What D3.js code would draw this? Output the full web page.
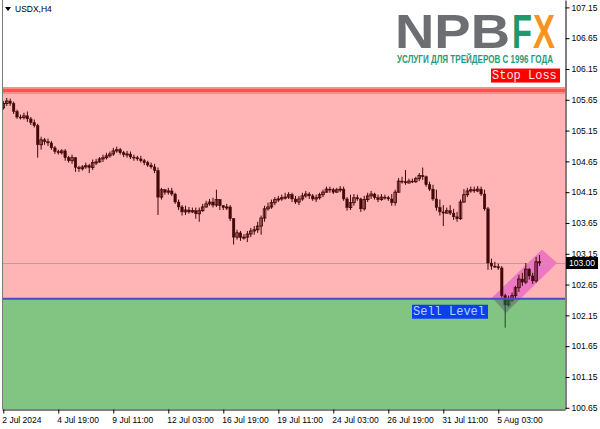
<!DOCTYPE html>
<html>
<head>
<meta charset="utf-8">
<script src="https://cdn.jsdelivr.net/npm/d3@7"></script>
<style>
  body { margin: 0; background: #fff; }
  svg { display: block; font-family: "Liberation Sans", Arial, sans-serif; }
</style>
</head>
<body>
<div id="chart"></div>
<script>
"use strict";

// chart data
var symbolName = "USDX,H4";
var stopLossLevel = 105.80;
var sellLevel = 102.42;
var currentPrice = 103.00;

var priceTicks = [100.65, 101.15, 101.65, 102.15, 102.65, 103.15, 103.65, 104.15, 104.65, 105.15, 105.65, 106.15, 106.65, 107.15];
var timeTickIndex = [0, 16, 32, 48, 64, 80, 96, 112, 128, 144];
var timeTickLabels = ["2 Jul 2024", "4 Jul 19:00", "9 Jul 11:00", "12 Jul 03:00", "16 Jul 19:00",
  "19 Jul 11:00", "24 Jul 03:00", "26 Jul 19:00", "31 Jul 11:00", "5 Aug 03:00"];

// rising channel drawn on the last bars: [bar index, price]
var channelPoints = [[142.2, 102.44], [156.7, 103.22], [161.1, 103.00], [146.2, 102.19]];

// H4 candles: [open, high, low, close]
var candles = [
  [105.52, 105.63, 105.49, 105.59], [105.59, 105.68, 105.55, 105.63], [105.63, 105.67, 105.55, 105.59],
  [105.59, 105.62, 105.42, 105.46], [105.46, 105.49, 105.34, 105.37], [105.37, 105.41, 105.33, 105.36],
  [105.36, 105.44, 105.33, 105.39], [105.39, 105.46, 105.29, 105.34], [105.34, 105.37, 105.24, 105.28],
  [105.28, 105.33, 105.20, 105.23], [105.23, 105.26, 104.71, 104.92], [104.92, 105.05, 104.84, 105.00],
  [105.00, 105.03, 104.92, 104.97], [104.97, 105.02, 104.90, 104.95], [104.95, 104.98, 104.84, 104.87],
  [104.87, 104.90, 104.77, 104.81], [104.81, 104.84, 104.76, 104.79], [104.79, 104.85, 104.76, 104.82],
  [104.82, 104.85, 104.66, 104.71], [104.71, 104.74, 104.63, 104.66], [104.66, 104.76, 104.61, 104.71],
  [104.71, 104.72, 104.48, 104.55], [104.55, 104.58, 104.48, 104.53], [104.53, 104.59, 104.50, 104.56],
  [104.56, 104.63, 104.53, 104.58], [104.58, 104.61, 104.46, 104.55], [104.55, 104.68, 104.51, 104.63],
  [104.63, 104.69, 104.59, 104.64], [104.64, 104.72, 104.63, 104.69], [104.69, 104.76, 104.64, 104.71],
  [104.71, 104.79, 104.68, 104.74], [104.74, 104.81, 104.71, 104.77], [104.77, 104.87, 104.74, 104.82],
  [104.82, 104.89, 104.79, 104.84], [104.84, 104.87, 104.76, 104.79], [104.79, 104.82, 104.72, 104.76],
  [104.76, 104.82, 104.71, 104.77], [104.77, 104.81, 104.69, 104.72], [104.72, 104.76, 104.66, 104.71],
  [104.71, 104.74, 104.66, 104.69], [104.69, 104.74, 104.63, 104.66], [104.66, 104.69, 104.59, 104.63],
  [104.63, 104.66, 104.56, 104.59], [104.59, 104.63, 104.53, 104.56], [104.56, 104.61, 104.46, 104.50],
  [104.50, 104.55, 103.78, 104.07], [104.07, 104.22, 104.03, 104.19], [104.19, 104.20, 104.11, 104.15],
  [104.15, 104.22, 104.11, 104.17], [104.17, 104.22, 104.09, 104.12], [104.12, 104.14, 103.96, 103.99],
  [103.99, 104.03, 103.86, 103.91], [103.91, 103.94, 103.77, 103.83], [103.83, 103.93, 103.78, 103.86],
  [103.86, 103.91, 103.80, 103.83], [103.83, 103.90, 103.81, 103.85], [103.85, 103.90, 103.72, 103.80],
  [103.80, 103.90, 103.67, 103.85], [103.85, 103.96, 103.83, 103.91], [103.91, 104.01, 103.90, 103.96],
  [103.96, 104.04, 103.93, 103.99], [103.99, 104.06, 103.90, 103.94], [103.94, 104.19, 103.91, 104.03],
  [104.03, 104.04, 103.86, 103.93], [103.93, 103.94, 103.86, 103.90], [103.90, 103.96, 103.86, 103.91],
  [103.91, 103.94, 103.68, 103.72], [103.72, 103.73, 103.30, 103.42], [103.42, 103.54, 103.38, 103.49],
  [103.49, 103.52, 103.36, 103.41], [103.41, 103.47, 103.38, 103.42], [103.42, 103.52, 103.34, 103.47],
  [103.47, 103.57, 103.42, 103.52], [103.52, 103.60, 103.46, 103.54], [103.54, 103.67, 103.49, 103.60],
  [103.60, 103.77, 103.46, 103.73], [103.73, 103.93, 103.67, 103.88], [103.88, 103.98, 103.85, 103.91],
  [103.91, 104.03, 103.88, 103.98], [103.98, 104.07, 103.94, 104.03], [104.03, 104.09, 103.99, 104.04],
  [104.04, 104.11, 104.01, 104.06], [104.06, 104.14, 104.03, 104.07], [104.07, 104.15, 104.04, 104.11],
  [104.11, 104.14, 103.99, 104.04], [104.04, 104.09, 103.96, 103.99], [103.99, 104.09, 103.94, 104.04],
  [104.04, 104.14, 104.01, 104.09], [104.09, 104.17, 104.06, 104.12], [104.12, 104.15, 104.04, 104.09],
  [104.09, 104.12, 104.01, 104.04], [104.04, 104.11, 103.99, 104.06], [104.06, 104.14, 104.03, 104.11],
  [104.11, 104.19, 104.07, 104.15], [104.15, 104.24, 104.14, 104.20], [104.20, 104.24, 104.14, 104.19],
  [104.19, 104.22, 104.12, 104.15], [104.15, 104.22, 104.14, 104.19], [104.19, 104.25, 104.15, 104.20],
  [104.20, 104.24, 104.01, 104.04], [104.04, 104.07, 103.85, 103.90], [103.90, 104.11, 103.86, 103.98],
  [103.98, 104.12, 103.93, 104.06], [104.06, 104.11, 104.01, 104.04], [104.04, 104.06, 103.83, 103.88],
  [103.88, 104.09, 103.85, 104.03], [104.03, 104.14, 103.99, 104.09], [104.09, 104.17, 104.04, 104.12],
  [104.12, 104.14, 104.03, 104.06], [104.06, 104.11, 103.99, 104.03], [104.03, 104.12, 104.01, 104.07],
  [104.07, 104.11, 104.03, 104.06], [104.06, 104.09, 104.01, 104.04], [104.04, 104.12, 103.93, 103.98],
  [103.98, 104.19, 103.93, 104.15], [104.15, 104.38, 104.14, 104.33], [104.33, 104.40, 104.29, 104.32],
  [104.32, 104.51, 104.27, 104.30], [104.30, 104.37, 104.29, 104.33], [104.33, 104.37, 104.30, 104.32],
  [104.32, 104.40, 104.30, 104.37], [104.37, 104.46, 104.33, 104.42], [104.42, 104.55, 104.35, 104.40],
  [104.40, 104.42, 104.24, 104.27], [104.27, 104.32, 104.17, 104.20], [104.20, 104.27, 104.01, 104.04],
  [104.04, 104.19, 103.85, 103.90], [103.90, 104.03, 103.77, 103.83], [103.83, 103.94, 103.60, 103.81],
  [103.81, 103.90, 103.80, 103.85], [103.85, 103.94, 103.78, 103.81], [103.81, 103.88, 103.70, 103.75],
  [103.75, 103.83, 103.67, 103.72], [103.72, 104.03, 103.70, 103.99], [103.99, 104.20, 103.98, 104.11],
  [104.11, 104.22, 104.07, 104.17], [104.17, 104.24, 104.14, 104.19], [104.19, 104.24, 104.14, 104.17],
  [104.17, 104.25, 104.15, 104.20], [104.20, 104.24, 104.09, 104.12], [104.12, 104.19, 103.85, 103.88],
  [103.88, 103.91, 102.89, 103.00], [103.00, 103.07, 102.89, 102.95], [102.95, 103.02, 102.92, 102.94],
  [102.94, 102.99, 102.89, 102.92], [102.92, 102.95, 102.44, 102.47], [102.47, 102.50, 101.95, 102.32],
  [102.32, 102.47, 102.29, 102.40], [102.40, 102.52, 102.37, 102.47], [102.47, 102.63, 102.42, 102.60],
  [102.60, 102.81, 102.53, 102.74], [102.74, 102.84, 102.63, 102.69], [102.69, 103.00, 102.66, 102.90],
  [102.90, 102.92, 102.73, 102.79], [102.79, 102.84, 102.66, 102.71], [102.71, 103.10, 102.68, 103.02],
  [103.02, 103.13, 102.95, 103.00]
];

// layout
var width = 600;
var height = 429;
var plotLeft = 2;
var plotRight = 565;
var plotTop = 0;
var plotBottom = 409;
var bodyWidth = 2.6;
var monoFont = "'Liberation Mono', 'Courier New', monospace";

var xScale = d3.scaleLinear().domain([-0.38, 163.4]).range([plotLeft, plotRight]);
var yScale = d3.scaleLinear().domain([100.63, 107.27]).range([plotBottom, plotTop]);

var svg = d3.select("#chart")
  .append("svg")
  .attr("width", width)
  .attr("height", height);

svg.append("rect").attr("width", width).attr("height", height).attr("fill", "#fff");

var defs = svg.append("defs");
var ySell = yScale(sellLevel);
var yStop = yScale(stopLossLevel);

defs.append("clipPath").attr("id", "clipUpper")
  .append("rect")
  .attr("x", plotLeft).attr("y", plotTop)
  .attr("width", plotRight - plotLeft).attr("height", ySell - plotTop);
defs.append("clipPath").attr("id", "clipLower")
  .append("rect")
  .attr("x", plotLeft).attr("y", ySell)
  .attr("width", plotRight - plotLeft).attr("height", plotBottom - ySell);

// zones
svg.append("rect")
  .attr("x", plotLeft).attr("y", yStop)
  .attr("width", plotRight - plotLeft).attr("height", ySell - yStop)
  .attr("fill", "#ffb5b5");
svg.append("rect")
  .attr("x", plotLeft).attr("y", ySell)
  .attr("width", plotRight - plotLeft).attr("height", plotBottom - ySell)
  .attr("fill", "#82c482");

// channel
var channelPath = d3.line()
  .x(function(p) { return xScale(p[0]); })
  .y(function(p) { return yScale(p[1]); })
  .curve(d3.curveLinearClosed);
svg.append("path")
  .attr("d", channelPath(channelPoints))
  .attr("fill", "#ec78c2")
  .attr("clip-path", "url(#clipUpper)");
svg.append("path")
  .attr("d", channelPath(channelPoints))
  .attr("fill", "#6c9079")
  .attr("clip-path", "url(#clipLower)");

// current price line
svg.append("line")
  .attr("x1", plotLeft).attr("x2", plotRight)
  .attr("y1", Math.round(yScale(currentPrice)) + 0.5)
  .attr("y2", Math.round(yScale(currentPrice)) + 0.5)
  .attr("stroke", "#c39a9a")
  .attr("stroke-width", 1);

// candles, coloured by the zone they sit in
function drawCandles(clipId, color) {
  var g = svg.append("g").attr("clip-path", "url(#" + clipId + ")");
  var bars = g.selectAll("g")
    .data(candles)
    .enter()
    .append("g");

  bars.append("line")
    .attr("x1", function(d, i) { return xScale(i); })
    .attr("x2", function(d, i) { return xScale(i); })
    .attr("y1", function(d) { return yScale(d[1]); })
    .attr("y2", function(d) { return yScale(d[2]); })
    .attr("stroke", color)
    .attr("stroke-width", 1);

  bars.append("rect")
    .attr("x", function(d, i) { return xScale(i) - bodyWidth / 2; })
    .attr("y", function(d) { return yScale(Math.max(d[0], d[3])); })
    .attr("width", bodyWidth)
    .attr("height", function(d) {
      return Math.max(1, Math.abs(yScale(d[0]) - yScale(d[3])));
    })
    .attr("fill", function(d) { return d[3] >= d[0] ? "none" : color; })
    .attr("stroke", color)
    .attr("stroke-width", function(d) { return d[3] >= d[0] ? 0.9 : 0.4; });
}
drawCandles("clipUpper", "#420707");
drawCandles("clipLower", "#1f4a26");

// stop loss line
svg.append("rect")
  .attr("x", plotLeft).attr("y", yStop - 3.5)
  .attr("width", plotRight - plotLeft).attr("height", 7)
  .attr("fill", "#ff8a8a");
svg.append("line")
  .attr("x1", plotLeft).attr("x2", plotRight)
  .attr("y1", yStop).attr("y2", yStop)
  .attr("stroke", "#ff5050")
  .attr("stroke-width", 3);

// sell level line
svg.append("line")
  .attr("x1", plotLeft).attr("x2", plotRight)
  .attr("y1", ySell).attr("y2", ySell)
  .attr("stroke", "#5048c4")
  .attr("stroke-width", 2);

// level labels
svg.append("rect")
  .attr("x", 491).attr("y", yStop - 22)
  .attr("width", 69).attr("height", 14)
  .attr("fill", "#ff0000");
svg.append("text")
  .attr("x", 492).attr("y", yStop - 11.5)
  .style("font-family", monoFont)
  .style("font-size", "12px")
  .attr("fill", "#ffe6e6")
  .text("Stop Loss");

svg.append("rect")
  .attr("x", 412).attr("y", ySell + 6)
  .attr("width", 76).attr("height", 14)
  .attr("fill", "#0c3ef0");
svg.append("text")
  .attr("x", 413).attr("y", ySell + 16.5)
  .style("font-family", monoFont)
  .style("font-size", "12px")
  .attr("fill", "#b4d2ff")
  .text("Sell Level");

// plot frame left edge
svg.append("line")
  .attr("x1", plotLeft + 0.5).attr("x2", plotLeft + 0.5)
  .attr("y1", plotTop).attr("y2", plotBottom)
  .attr("stroke", "#7a7a7a");

// axes
var yAxis = d3.axisRight(yScale)
  .tickValues(priceTicks)
  .tickFormat(d3.format(".2f"))
  .tickSize(4)
  .tickSizeOuter(0)
  .tickPadding(2);
var yAxisG = svg.append("g")
  .attr("transform", "translate(" + (plotRight + 0.5) + ",0)")
  .call(yAxis);

var xAxis = d3.axisBottom(xScale)
  .tickValues(timeTickIndex)
  .tickFormat(function(d, i) { return timeTickLabels[i]; })
  .tickSize(4)
  .tickSizeOuter(0)
  .tickPadding(3);
var xAxisG = svg.append("g")
  .attr("transform", "translate(0," + (plotBottom + 0.5) + ")")
  .call(xAxis);
xAxisG.selectAll("text").attr("text-anchor", "start").attr("dx", -1.5);

[yAxisG, xAxisG].forEach(function(g) {
  g.attr("font-family", null).attr("font-size", null);
  g.selectAll("text")
    .style("font-size", "8.5px")
    .attr("fill", "#000");
  g.selectAll("line").attr("stroke", "#000");
  g.select(".domain").attr("stroke", "#000");
});

// current price tag
var yCur = yScale(currentPrice);
svg.append("rect")
  .attr("x", plotRight + 1).attr("y", yCur - 6)
  .attr("width", 32).attr("height", 12)
  .attr("fill", "#000");
svg.append("text")
  .attr("x", plotRight + 4).attr("y", yCur + 3)
  .style("font-size", "8.5px")
  .attr("fill", "#fff")
  .text(currentPrice.toFixed(2));

// symbol header
svg.append("path")
  .attr("d", "M5,7 L11,7 L8,11 Z")
  .attr("fill", "#000");
svg.append("text")
  .attr("x", 15).attr("y", 12)
  .style("font-size", "8.5px")
  .attr("fill", "#000")
  .text(symbolName);

// logo
var logo = svg.append("g");
logo.append("text")
  .attr("x", 395).attr("y", 48)
  .style("font-size", "48px")
  .style("font-weight", "bold")
  .attr("fill", "#6d6e71")
  .attr("textLength", 115)
  .attr("lengthAdjust", "spacingAndGlyphs")
  .text("NPB");
logo.append("text")
  .attr("x", 512).attr("y", 48)
  .style("font-size", "48px")
  .style("font-weight", "bold")
  .attr("fill", "#1d9a6c")
  .attr("textLength", 20)
  .attr("lengthAdjust", "spacingAndGlyphs")
  .text("F");
logo.append("text")
  .attr("x", 533).attr("y", 48)
  .style("font-size", "48px")
  .style("font-weight", "bold")
  .attr("fill", "#f7931e")
  .attr("textLength", 22)
  .attr("lengthAdjust", "spacingAndGlyphs")
  .text("X");
logo.append("text")
  .attr("x", 397).attr("y", 63)
  .style("font-size", "10px")
  .style("font-weight", "bold")
  .attr("fill", "#1f9a7a")
  .attr("textLength", 156)
  .attr("lengthAdjust", "spacingAndGlyphs")
  .text("УСЛУГИ ДЛЯ ТРЕЙДЕРОВ С 1996 ГОДА");
</script>
</body>
</html>
